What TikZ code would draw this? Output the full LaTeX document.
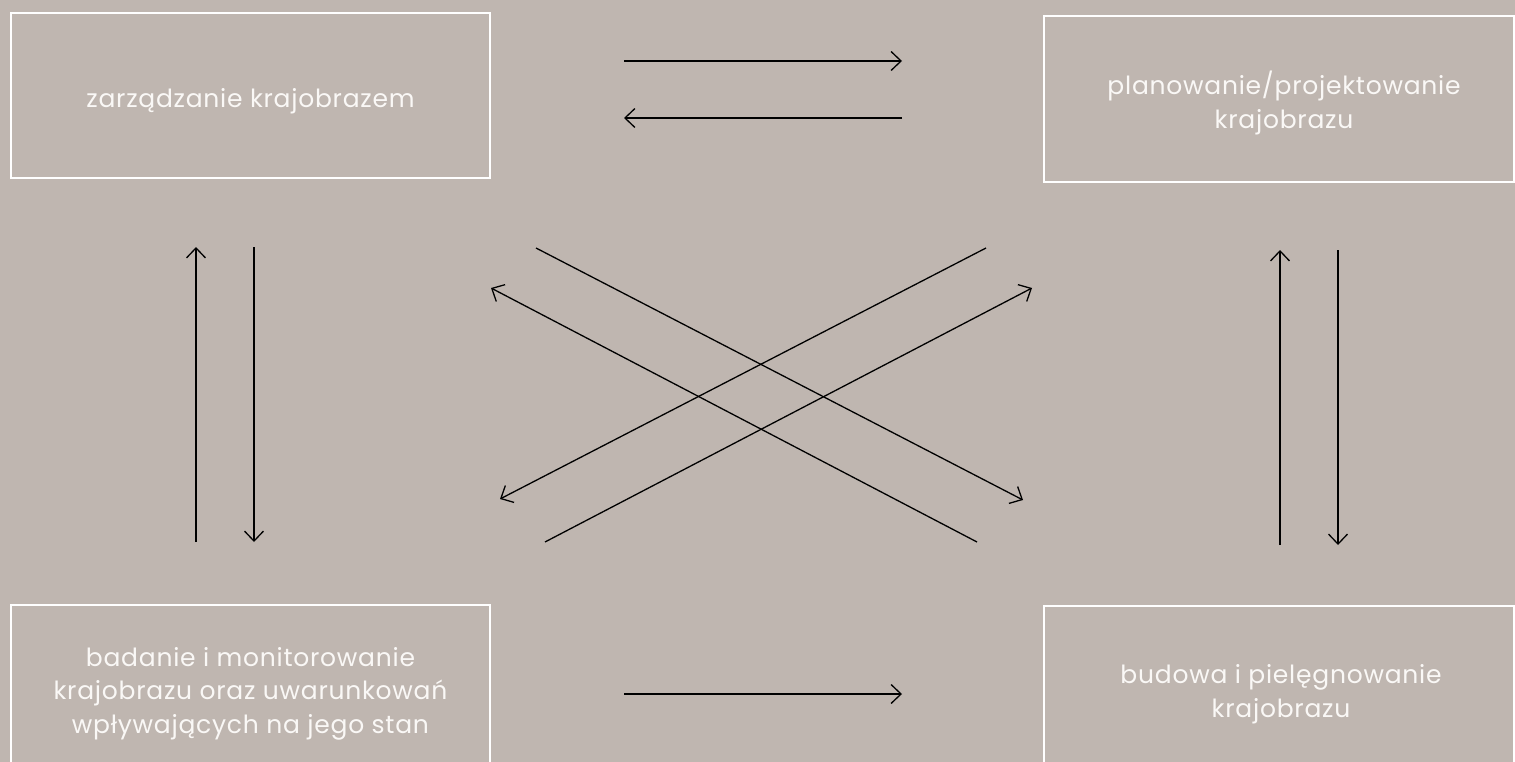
\documentclass[tikz,border=0pt]{standalone}
\usepackage{fontspec}
\setmainfont{Poppins}[LetterSpace=3]
\usetikzlibrary{arrows.meta}
\definecolor{bgcol}{HTML}{BFB6B0}
\definecolor{txtcol}{HTML}{FAF8F6}
\tikzset{
  box/.style={draw=white, line width=1.6pt, minimum width=479pt, minimum height=165pt,
    inner sep=0pt},
  boxtext/.style={inner sep=0pt, align=center, text=txtcol, font=\fontsize{25}{33.5}\selectfont},
  conn/.style={draw=black, line width=1.3pt, -{Straight Barb[length=10pt,width=19pt,line width=1.3pt]}}
}
\begin{document}
\begin{tikzpicture}[x=1pt,y=-1pt]
\fill[bgcol] (0,0) rectangle (1515,762);
\useasboundingbox (0,0) rectangle (1515,762);
\clip (0,0) rectangle (1515,762);
% boxes
\node[box] (zarz) at (250.5,95.5) {};
\node[box, minimum width=470pt, minimum height=166pt] (plan) at (1279,99) {};
\node[box] (bad) at (250.5,687.5) {};
\node[box, minimum width=470pt, minimum height=166pt] (bud) at (1279,689) {};
% texts
\node[boxtext] (zarzt) at ([yshift=-6pt]zarz.center) {zarządzanie krajobrazem};
\node[boxtext] (plant) at ([xshift=5pt,yshift=-4pt]plan.center) {planowanie/projektowanie\\krajobrazu};
\node[boxtext] (badt) at ([yshift=-6pt]bad.center) {badanie i monitorowanie\\krajobrazu oraz uwarunkowań\\wpływających na jego stan};
\node[boxtext] (budt) at ([xshift=2pt,yshift=-5pt]bud.center) {budowa i pielęgnowanie\\krajobrazu};
% arrow end points
\coordinate (h1a) at (624,61);  \coordinate (h1b) at (902,61);
\coordinate (h2a) at (902,118); \coordinate (h2b) at (624,118);
\coordinate (h3a) at (624,694); \coordinate (h3b) at (902,694);
\coordinate (v1a) at (196,542); \coordinate (v1b) at (196,247);
\coordinate (v2a) at (254,247); \coordinate (v2b) at (254,542);
\coordinate (v3a) at (1280,545); \coordinate (v3b) at (1280,250);
\coordinate (v4a) at (1338,250); \coordinate (v4b) at (1338,545);
\coordinate (dA1) at (536,248); \coordinate (dA2) at (1023,500);
\coordinate (dB1) at (977,542); \coordinate (dB2) at (491,288);
\coordinate (dC1) at (545,542); \coordinate (dC2) at (1032,288);
\coordinate (dD1) at (986,248); \coordinate (dD2) at (500,499);
% connectors
\draw[conn] (h1a) -- (h1b);
\draw[conn] (h2a) -- (h2b);
\draw[conn] (h3a) -- (h3b);
\draw[conn] (v1a) -- (v1b);
\draw[conn] (v2a) -- (v2b);
\draw[conn] (v3a) -- (v3b);
\draw[conn] (v4a) -- (v4b);
\draw[conn] (dA1) -- (dA2);
\draw[conn] (dB1) -- (dB2);
\draw[conn] (dC1) -- (dC2);
\draw[conn] (dD1) -- (dD2);
\end{tikzpicture}
\end{document}
